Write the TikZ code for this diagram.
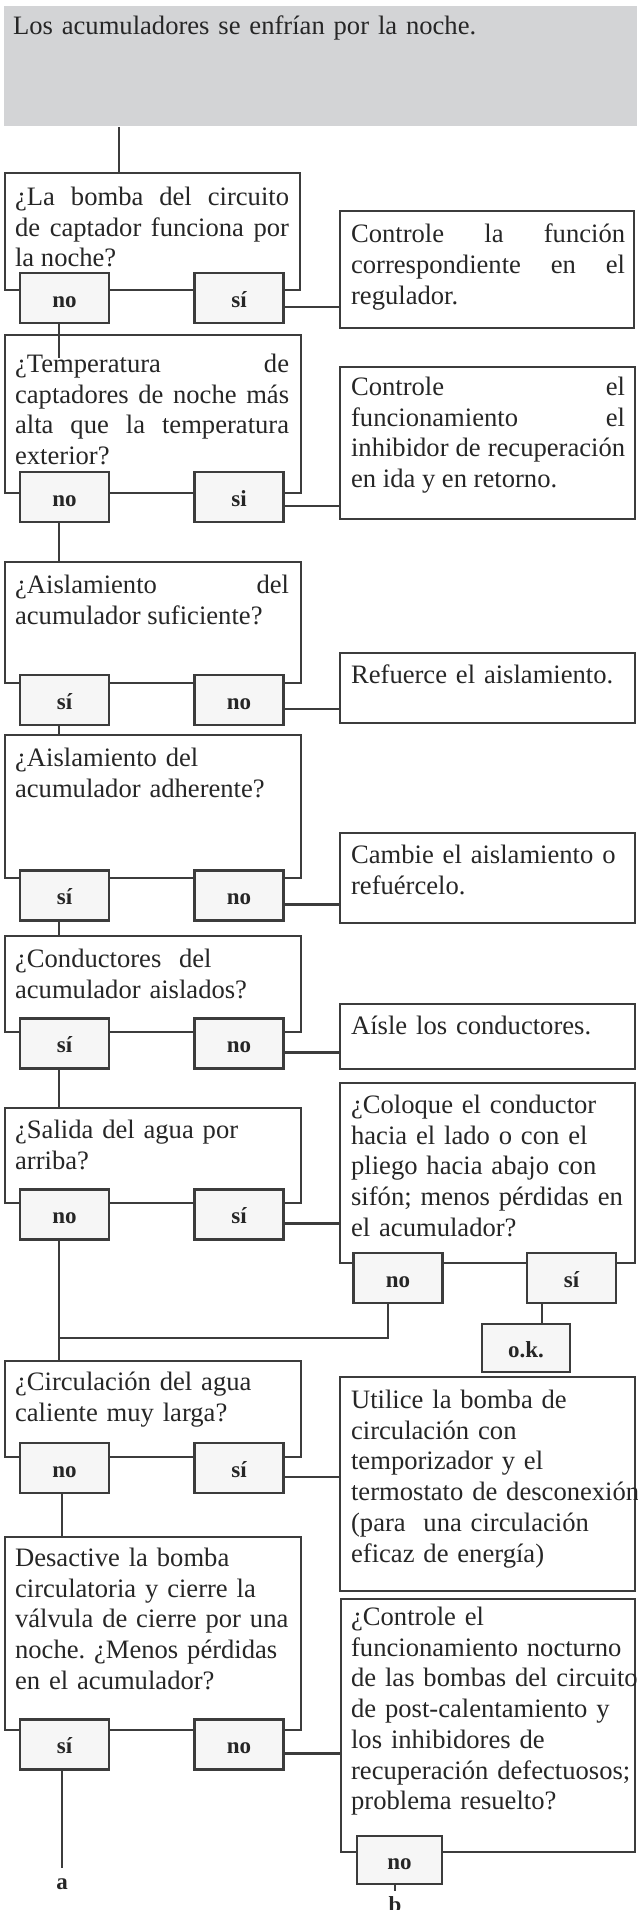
\documentclass[tikz,border=0pt]{standalone}
\usepackage{fontspec}
\setmainfont{Liberation Serif}
\frenchspacing
\usetikzlibrary{fit}
\definecolor{linegray}{HTML}{3C3C3C}
\definecolor{headgray}{HTML}{D3D4D6}
\definecolor{labfill}{HTML}{F6F6F6}
\definecolor{ink}{HTML}{262626}

\begin{document}
\begin{tikzpicture}[x=0.5pt, y=-0.5pt, linegray, line width=1.1pt,
  panel/.style={draw=linegray, fill=white, inner sep=0pt},
  answer/.style={draw=linegray, fill=labfill, inner sep=0pt, minimum width=44.5pt, minimum height=25pt, text=ink, text height=9pt, text depth=0pt, font=\fontsize{11.5}{13}\selectfont\bfseries},
  body/.style={anchor=north west, inner sep=0pt, text width=150pt, align=left, text=ink, font=\fontsize{13.3}{15.35}\selectfont},
  just/.style={text width=137pt, align=justify},
  tag/.style={inner sep=4.5pt, text=ink, font=\fontsize{11.5}{13}\selectfont\bfseries}]
	\useasboundingbox (0,0) rectangle (637,1910);
	% header
	\node[fill=headgray, inner sep=0pt, fit={(4,6) (637,126)}] (gbox) {};
	% question boxes (left) and advice boxes (right)
	\node[panel, fit={(5,173) (300,290)}] (q1) {};
	\node[panel, fit={(340,211) (634,328)}] (r1) {};
	\node[panel, fit={(5,335) (301,493)}] (q2) {};
	\node[panel, fit={(340,367) (635,519)}] (r2) {};
	\node[panel, fit={(5,562) (301,683)}] (q3) {};
	\node[panel, fit={(340,653) (635,723)}] (r3) {};
	\node[panel, fit={(5,735) (301,878)}] (q4) {};
	\node[panel, fit={(340,833) (635,923)}] (r4) {};
	\node[panel, fit={(5,936) (301,1032)}] (q5) {};
	\node[panel, fit={(340,1004) (635,1069)}] (r5) {};
	\node[panel, fit={(5,1108) (301,1203)}] (q6) {};
	\node[panel, fit={(340,1083) (635,1263)}] (r6) {};
	\node[panel, fit={(5,1361) (301,1457)}] (q7) {};
	\node[panel, fit={(340,1377) (635,1591)}] (r7) {};
	\node[panel, fit={(5,1537) (301,1730)}] (q8) {};
	\node[panel, fit={(341,1599) (635,1852)}] (r8) {};
	% answers
	\node[answer] (no1) at (64.5,298) {no};
	\node[answer] (si1) at (239,298) {sí};
	\node[answer] (no2) at (64.5,497) {no};
	\node[answer] (si2) at (239,497) {si};
	\node[answer] (si3) at (64.5,700) {sí};
	\node[answer] (no3) at (239,700) {no};
	\node[answer] (si4) at (64.5,895.5) {sí};
	\node[answer] (no4) at (239,895.5) {no};
	\node[answer] (si5) at (64.5,1043.5) {sí};
	\node[answer] (no5) at (239,1043.5) {no};
	\node[answer] (no6) at (64.5,1214.5) {no};
	\node[answer] (si6) at (239,1214.5) {sí};
	\node[answer] (no7) at (398,1278) {no};
	\node[answer] (si7) at (571.5,1278) {sí};
	\node[answer, minimum width=44pt, minimum height=24pt] (ok) at (526,1348) {o.k.};
	\node[answer] (no8) at (64.5,1468) {no};
	\node[answer] (si8) at (239,1468) {sí};
	\node[answer] (si9) at (64.5,1744.5) {sí};
	\node[answer] (no9) at (239,1744.5) {no};
	\node[answer, minimum width=42.5pt, minimum height=24pt] (no10) at (399.5,1860) {no};
	\node[tag] (a) at (62,1884) {a};
	\node[tag, anchor=north, inner sep=2pt] (b) at (395,1891) {b};
	% main line
	\coordinate (spine) at (59,0);
	\coordinate (spineb) at (62,0);
	\coordinate (join) at (59,1338);
	\draw (gbox.south -| 119,0) -- (q1.north -| 119,0);
	\draw (no1.south -| spine) -- (spine |- 0,358);
	\draw (no2.south -| spine) -- (q3.north -| spine);
	\draw (si3.south -| spine) -- (q4.north -| spine);
	\draw (si4.south -| spine) -- (q5.north -| spine);
	\draw (si5.south -| spine) -- (q6.north -| spine);
	\draw (no6.south -| spine) -- (q7.north -| spine);
	\draw (no7.south -| 388,0) |- (join);
	\draw (si7.south -| 542,0) -- (ok.north -| 542,0);
	\draw (no8.south -| spineb) -- (q8.north -| spineb);
	\draw (si9.south -| spineb) -- (a.north);
	\draw (no10.south -| b) -- (b.north);
	% side branches
	\draw ([yshift=-4.5pt]si1.east) -- ([yshift=-4.5pt]si1.east -| r1.west);
	\draw ([yshift=-4.5pt]si2.east) -- ([yshift=-4.5pt]si2.east -| r2.west);
	\draw ([yshift=-4.5pt]no3.east) -- ([yshift=-4.5pt]no3.east -| r3.west);
	\draw ([yshift=-4.5pt]no4.east) -- ([yshift=-4.5pt]no4.east -| r4.west);
	\draw ([yshift=-4.5pt]no5.east) -- ([yshift=-4.5pt]no5.east -| r5.west);
	\draw ([yshift=-4.5pt]si6.east) -- ([yshift=-4.5pt]si6.east -| r6.west);
	\draw ([yshift=-4.5pt]si8.east) -- ([yshift=-4.5pt]si8.east -| r7.west);
	\draw ([yshift=-4.5pt]no9.east) -- ([yshift=-4.5pt]no9.east -| r8.west);
	% texts
	\node[body, text width=300pt] (gboxt) at (12,15) {Los acumuladores se enfrían por la noche.};
	\node[body, just] (q1t) at (14,186) {¿La bomba del circuito\linebreak de captador funciona por\linebreak la noche?};
	\node[body, just] (r1t) at (350,223) {Controle la función\linebreak correspondiente en el\linebreak regulador.};
	\node[body, just] (q2t) at (14,353) {¿Temperatura de\linebreak captadores de noche más\linebreak alta que la temperatura\linebreak exterior?};
	\node[body, just] (r2t) at (350,376) {Controle el\linebreak funcionamiento el\linebreak inhibidor de recuperación\linebreak en ida y en retorno.};
	\node[body, just] (q3t) at (14,574) {¿Aislamiento del\linebreak acumulador suficiente?};
	\node[body] (r3t) at (350,664) {Refuerce el aislamiento.};
	\node[body] (q4t) at (14,747) {¿Aislamiento del\\acumulador adherente?};
	\node[body] (r4t) at (350,844) {Cambie el aislamiento o\\refuércelo.};
	\node[body] (q5t) at (14,948) {¿Conductores\ \ del\\acumulador aislados?};
	\node[body] (r5t) at (350,1015) {Aísle los conductores.};
	\node[body] (q6t) at (14,1119) {¿Salida del agua por\\arriba?};
	\node[body] (r6t) at (350,1094) {¿Coloque el conductor\\hacia el lado o con el\\pliego hacia abajo con\\sifón; menos pérdidas en\\el acumulador?};
	\node[body] (q7t) at (14,1371) {¿Circulación del agua\\caliente muy larga?};
	\node[body] (r7t) at (350,1389) {Utilice la bomba de\\circulación con\\temporizador y el\\termostato de desconexión\\(para\ \ una circulación\\eficaz de energía)};
	\node[body] (q8t) at (14,1547) {Desactive la bomba\\circulatoria y cierre la\\válvula de cierre por una\\noche. ¿Menos pérdidas\\en el acumulador?};
	\node[body] (r8t) at (350,1606) {¿Controle el\\funcionamiento nocturno\\de las bombas del circuito\\de post-calentamiento y\\los inhibidores de\\recuperación defectuosos;\\problema resuelto?};
\end{tikzpicture}
\end{document}
